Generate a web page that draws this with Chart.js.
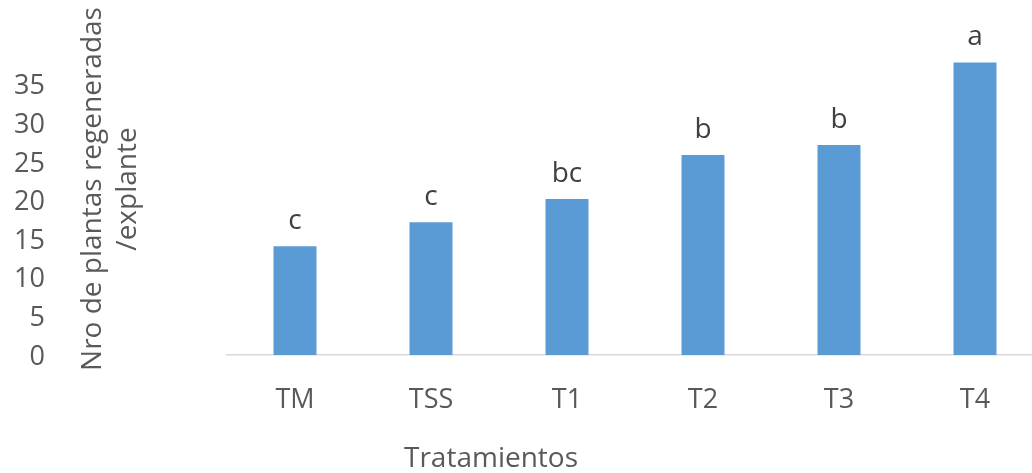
<!DOCTYPE html>
<html>
<head>
<meta charset="utf-8">
<script src="https://cdn.jsdelivr.net/npm/chart.js@4.4.0/dist/chart.umd.min.js"></script>
<style>
  html, body { margin: 0; padding: 0; background: #fff; overflow: hidden; }
  #wrap { width: 1032px; height: 473px; overflow: hidden; position: relative; }
  canvas { display: block; }
</style>
</head>
<body>
<div id="wrap"><canvas id="c" width="1043" height="473"></canvas></div>
<script>
// Regenerated plants per explant by treatment
const categories = ['TM', 'TSS', 'T1', 'T2', 'T3', 'T4'];
const plantsPerExplant = [14.1, 17.2, 20.2, 25.9, 27.2, 37.9];
const groupLetters = ['c', 'c', 'bc', 'b', 'b', 'a'];
const yTickValues = [0, 5, 10, 15, 20, 25, 30, 35];
const yTitleLines = ['Nro de plantas regeneradas', '/explante'];
const xTitle = 'Tratamientos';

const FONT = '"Open Sans", "DejaVu Sans", sans-serif';
const TEXT_GREY = '#595959';

// Significance letters above each bar
const letterPlugin = {
  id: 'groupLetters',
  afterDatasetsDraw(chart) {
    const { ctx } = chart;
    const meta = chart.getDatasetMeta(0);
    ctx.save();
    ctx.font = '28px ' + FONT;
    ctx.fillStyle = '#404040';
    ctx.textAlign = 'center';
    ctx.textBaseline = 'alphabetic';
    meta.data.forEach((bar, i) => {
      ctx.fillText(groupLetters[i], bar.x, bar.y - 17);
    });
    ctx.restore();
  }
};

// Axis titles: the y title sits between the tick labels and the plot
const axisTitlePlugin = {
  id: 'axisTitles',
  afterDraw(chart) {
    const { ctx, chartArea: a } = chart;
    ctx.save();
    ctx.font = '28px ' + FONT;
    ctx.fillStyle = TEXT_GREY;
    ctx.textAlign = 'center';
    ctx.textBaseline = 'middle';
    ctx.translate(a.left - 134, (a.top + a.bottom) / 2);
    ctx.rotate(-Math.PI / 2);
    yTitleLines.forEach((t, i) => ctx.fillText(t, 0, i * 35));
    ctx.restore();

    ctx.save();
    ctx.font = '28px ' + FONT;
    ctx.fillStyle = TEXT_GREY;
    ctx.textAlign = 'center';
    ctx.textBaseline = 'middle';
    ctx.fillText(xTitle, a.left + 264, 459);
    ctx.restore();
  }
};

function draw() {
  new Chart(document.getElementById('c'), {
    type: 'bar',
    data: {
      labels: categories,
      datasets: [{
        data: plantsPerExplant,
        backgroundColor: '#5B9BD5',
        borderWidth: 0,
        categoryPercentage: 1,
        barPercentage: 0.316
      }]
    },
    options: {
      responsive: false,
      animation: false,
      events: [],
      layout: { padding: { top: 23, right: 0, bottom: 0, left: 0 } },
      plugins: {
        legend: { display: false },
        tooltip: { enabled: false },
        title: { display: false }
      },
      scales: {
        x: {
          grid: { display: false, drawTicks: false },
          border: { display: true, color: '#D9D9D9', width: 1.5 },
          ticks: {
            color: TEXT_GREY,
            font: { family: FONT, size: 27 },
            padding: 29,
            maxRotation: 0,
            autoSkip: false
          },
          afterFit(scale) {
            scale.height = 118;
            scale.paddingLeft = 0;
            scale.paddingRight = 0;
          }
        },
        y: {
          min: 0,
          max: 43,
          grid: { display: false, drawTicks: false },
          border: { display: false },
          ticks: {
            color: TEXT_GREY,
            font: { family: FONT, size: 27 },
            padding: 182,
            labelOffset: 2
          },
          afterBuildTicks(scale) {
            scale.ticks = yTickValues.map(v => ({ value: v }));
          },
          afterFit(scale) {
            scale.width = 227;
            scale.paddingTop = 0;
            scale.paddingBottom = 0;
          }
        }
      }
    },
    plugins: [letterPlugin, axisTitlePlugin]
  });
}

if (document.fonts && document.fonts.load) {
  document.fonts.load('27px "Open Sans"').then(draw, draw);
} else {
  draw();
}
</script>
</body>
</html>
